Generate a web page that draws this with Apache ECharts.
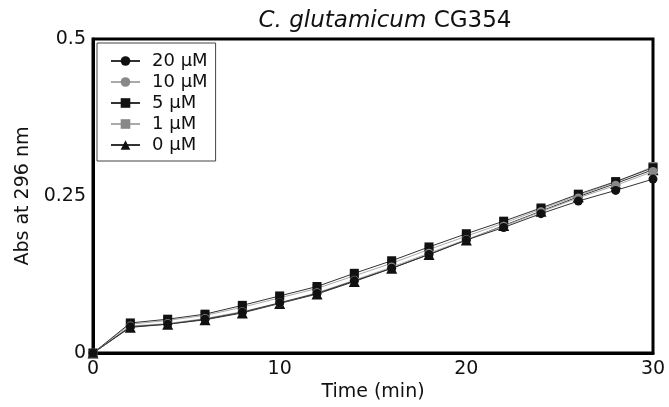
<!DOCTYPE html>
<html><head><meta charset="utf-8">
<script src="https://cdn.jsdelivr.net/npm/echarts@6/dist/echarts.min.js"></script>
<style>html,body{margin:0;padding:0;background:#fff}#c{width:669px;height:407px}</style>
</head><body><div id="c"></div>
<script>
var times = [0,2,4,6,8,10,12,14,16,18,20,22,24,26,28,30];
var s20 = [0,0.042,0.046,0.054,0.065,0.080,0.095,0.115,0.135,0.157,0.180,0.200,0.222,0.242,0.259,0.277];
var s10 = [0,0.043,0.047,0.055,0.066,0.080,0.096,0.116,0.137,0.159,0.181,0.202,0.225,0.247,0.267,0.289];
var s5  = [0,0.048,0.054,0.062,0.076,0.091,0.106,0.127,0.147,0.169,0.190,0.210,0.231,0.253,0.273,0.295];
var s1  = [0,0.046,0.052,0.060,0.073,0.088,0.103,0.123,0.143,0.165,0.186,0.207,0.229,0.251,0.272,0.297];
var s0  = [0,0.041,0.046,0.053,0.064,0.079,0.094,0.114,0.135,0.157,0.180,0.203,0.226,0.249,0.270,0.292];
var names = ['20 \u03bcM','10 \u03bcM','5 \u03bcM','1 \u03bcM','0 \u03bcM'];
var xTicks = [0,10,20,30];
var yTicks = [0,0.25,0.5];

function pairs(v){ return times.map(function(t,i){ return [t, v[i]]; }); }
var defs = [
  {d:s20, sym:'circle', c:'#111', lc:'#333'},
  {d:s10, sym:'circle', c:'#888', lc:'#aaa'},
  {d:s5,  sym:'rect',   c:'#111', lc:'#333'},
  {d:s1,  sym:'rect',   c:'#888', lc:'#aaa'},
  {d:s0,  sym:'triangle', c:'#111', lc:'#333'}
];
var FONT = '"DejaVu Sans", sans-serif';
var chart = echarts.init(document.getElementById('c'), null, {renderer:'canvas'});
chart.setOption({
  animation:false,
  title:{
    text:'{i|C. glutamicum} {n|CG354}',
    left:380, top:5, textAlign:'center',
    textStyle:{fontWeight:'normal', fontSize:23, fontFamily:FONT, rich:{
      i:{fontStyle:'italic', fontWeight:'normal', fontSize:23, fontFamily:FONT, color:'#111'},
      n:{fontWeight:'normal', fontSize:23, fontFamily:FONT, color:'#111'}
    }}
  },
  grid:{left:93, right:16, top:39, bottom:51, show:true, borderColor:'#000', borderWidth:3, containLabel:false},
  legend:{
    left:97, top:43, orient:'vertical', itemGap:3, itemWidth:29, itemHeight:12,
    padding:[9,8,7,13],
    borderColor:'#444', borderWidth:1,
    textStyle:{fontSize:18, fontFamily:FONT, color:'#111', padding:[0,0,0,7]},
    data:names
  },
  xAxis:{
    type:'value', min:0, max:30, interval:10,
    name:'Time (min)', nameLocation:'middle', nameGap:28,
    nameTextStyle:{fontSize:19, fontFamily:FONT, color:'#111'},
    axisLine:{lineStyle:{color:'#000', width:3}},
    axisTick:{show:false}, splitLine:{show:false},
    axisLabel:{fontSize:19, fontFamily:FONT, color:'#111', margin:6,
      formatter:function(v){ return xTicks.indexOf(v)>=0 ? String(v) : ''; }}
  },
  yAxis:{
    type:'value', min:0, max:0.5, interval:0.25,
    name:'Abs at 296 nm', nameLocation:'middle', nameGap:56,
    nameTextStyle:{fontSize:19, fontFamily:FONT, color:'#111'},
    axisLine:{lineStyle:{color:'#000', width:3}},
    axisTick:{show:false}, splitLine:{show:false},
    axisLabel:{fontSize:19, fontFamily:FONT, color:'#111', margin:7,
      formatter:function(v){ return yTicks.indexOf(v)>=0 ? String(v) : ''; }}
  },
  series: defs.map(function(s,i){
    return {
      name:names[i], type:'line', data:pairs(s.d),
      symbol:s.sym, symbolSize: s.sym==='triangle'?11:9,
      itemStyle:{color:s.c},
      lineStyle:{color:s.lc, width:1},
      z: 10 - i
    };
  })
});
</script></body></html>
